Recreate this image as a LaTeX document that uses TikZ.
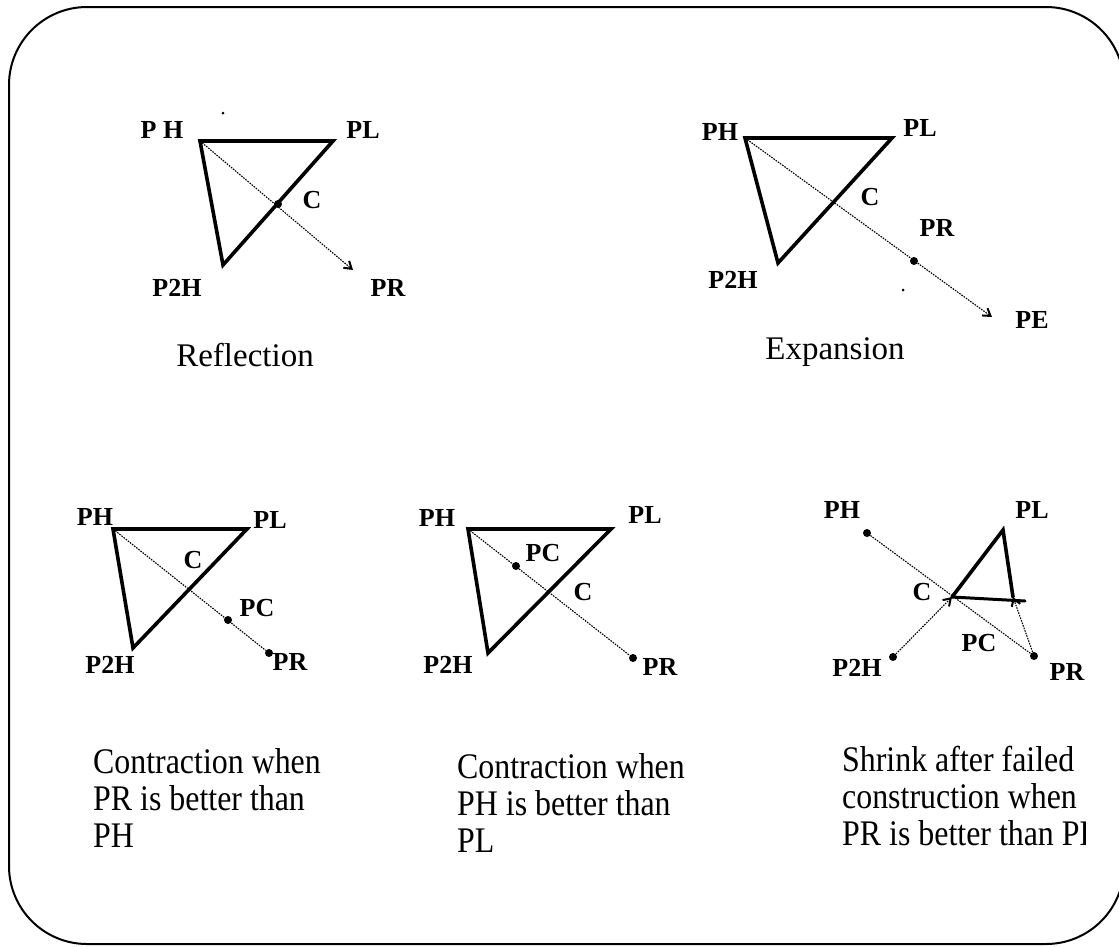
\documentclass[tikz,border=0pt]{standalone}
\usepackage{fontspec}
\setmainfont{Liberation Serif}
\usetikzlibrary{arrows.meta}
\begin{document}
\begin{tikzpicture}[x=1pt,y=-1pt,
  edge/.style={line width=3.6pt, line join=miter, line cap=round},
  ray/.style={line width=1.1pt, dash pattern=on 1.6pt off 1.1pt},
  pt/.style={circle, fill=black, inner sep=0pt, minimum size=8pt},
  speck/.style={circle, fill=black, inner sep=0pt, minimum size=3pt},
  lbl/.style={font=\fontsize{26}{26}\selectfont\bfseries, inner sep=0pt},
  capt/.style={font=\fontsize{33}{37}\selectfont, inner sep=0pt},
  captml/.style={font=\fontsize{36}{37}\selectfont, inner sep=0pt, align=left, anchor=north west, xscale=0.886},
  tip/.style={-{Straight Barb[length=7pt,width=9pt,line width=2pt]}}
]
\useasboundingbox (0,0) rectangle (1119,946);
\draw[line width=2pt, rounded corners=78pt] (9,7) rectangle (1124,944);

% ---- Panel 1: Reflection
\coordinate (a-ph) at (200,141);
\coordinate (a-pl) at (333,141);
\coordinate (a-p2h) at (223,265);
\coordinate (a-pr) at (353,270);
\draw[edge] (a-ph) -- (a-pl) -- (a-p2h) -- cycle;
\draw[ray, tip] (a-ph) -- (a-pr);
\node[pt] (a-c) at (278,204) {};
\node[speck] (a-s) at (223,113) {};
\node[lbl] (a-lph) at (162,130) {P H};
\node[lbl] (a-lpl) at (363,130) {PL};
\node[lbl] (a-lc) at (312,200) {C};
\node[lbl] (a-lp2h) at (177,288) {P2H};
\node[lbl] (a-lpr) at (388,288) {PR};
\node[capt] (a-cap) at (245,355) {Reflection};

% ---- Panel 2: Expansion
\coordinate (b-ph) at (745,138);
\coordinate (b-pl) at (892,138);
\coordinate (b-p2h) at (778,263);
\coordinate (b-pe) at (992,317);
\draw[edge] (b-ph) -- (b-pl) -- (b-p2h) -- cycle;
\draw[ray, tip] (b-ph) -- (b-pe);
\node[pt] (b-pr) at (914,261) {};
\node[speck] (b-s) at (903,290) {};
\node[lbl] (b-lph) at (720,132) {PH};
\node[lbl] (b-lpl) at (920,128) {PL};
\node[lbl] (b-lc) at (870,197) {C};
\node[lbl] (b-lpr) at (937,228) {PR};
\node[lbl] (b-lp2h) at (733,280) {P2H};
\node[lbl] (b-lpe) at (1032,320) {PE};
\node[capt] (b-cap) at (835,352) {Expansion};

% ---- Panel 3: Contraction (PR better than PH)
\coordinate (c-ph) at (113,529);
\coordinate (c-pl) at (247,529);
\coordinate (c-p2h) at (133,648);
\draw[edge] (c-ph) -- (c-pl) -- (c-p2h) -- cycle;
\node[pt] (c-pc) at (228,620) {};
\node[pt] (c-pr) at (269,653) {};
\draw[ray] (c-ph) -- (c-pr);
\node[lbl] (c-lph) at (95,517) {PH};
\node[lbl] (c-lpl) at (270,520) {PL};
\node[lbl] (c-lc) at (193,560) {C};
\node[lbl] (c-lpc) at (257,608) {PC};
\node[lbl] (c-lpr) at (290,662) {PR};
\node[lbl] (c-lp2h) at (110,665) {P2H};
\node[captml] (c-cap) at (93,748) {Contraction when\\PR is better than\\PH};

% ---- Panel 4: Contraction (PH better than PL)
\coordinate (d-ph) at (468,529);
\coordinate (d-pl) at (611,529);
\coordinate (d-p2h) at (488,653);
\draw[edge] (d-ph) -- (d-pl) -- (d-p2h) -- cycle;
\node[pt] (d-pc) at (516,566) {};
\node[pt] (d-pr) at (633,658) {};
\draw[ray] (d-ph) -- (d-pr);
\node[lbl] (d-lph) at (437,518) {PH};
\node[lbl] (d-lpl) at (645,515) {PL};
\node[lbl] (d-lpc) at (543,553) {PC};
\node[lbl] (d-lc) at (583,592) {C};
\node[lbl] (d-lp2h) at (448,665) {P2H};
\node[lbl] (d-lpr) at (660,667) {PR};
\node[captml] (d-cap) at (457,753) {Contraction when\\PH is better than\\PL};

% ---- Panel 5: Shrink
\node[pt] (e-ph) at (867,533) {};
\coordinate (e-pl) at (1003,530);
\coordinate (e-lv) at (952,597);
\coordinate (e-rv) at (1013,597);
\coordinate (e-bx) at (1025,601);
\node[pt] (e-pr) at (1034,656) {};
\node[pt] (e-p2h) at (893,657) {};
\draw[edge] (e-lv) -- (e-pl) -- (e-rv);
\draw[edge, line width=3pt] (e-lv) -- (e-bx);
\draw[ray] (e-ph) -- (e-pr);
\draw[ray, tip] (e-p2h) -- (e-lv);
\draw[ray, tip] (e-pr) -- (e-rv);
\node[lbl] (e-lph) at (842,510) {PH};
\node[lbl] (e-lpl) at (1032,510) {PL};
\node[lbl] (e-lc) at (922,592) {C};
\node[lbl] (e-lpc) at (979,643) {PC};
\node[lbl] (e-lp2h) at (857,668) {P2H};
\node[lbl] (e-lpr) at (1067,672) {PR};
\begin{scope}
  \clip (0,0) rectangle (1085,946);
  \node[captml] (e-cap) at (842,746) {Shrink after failed\\construction when\\PR is better than PH};
\end{scope}
\end{tikzpicture}
\end{document}
